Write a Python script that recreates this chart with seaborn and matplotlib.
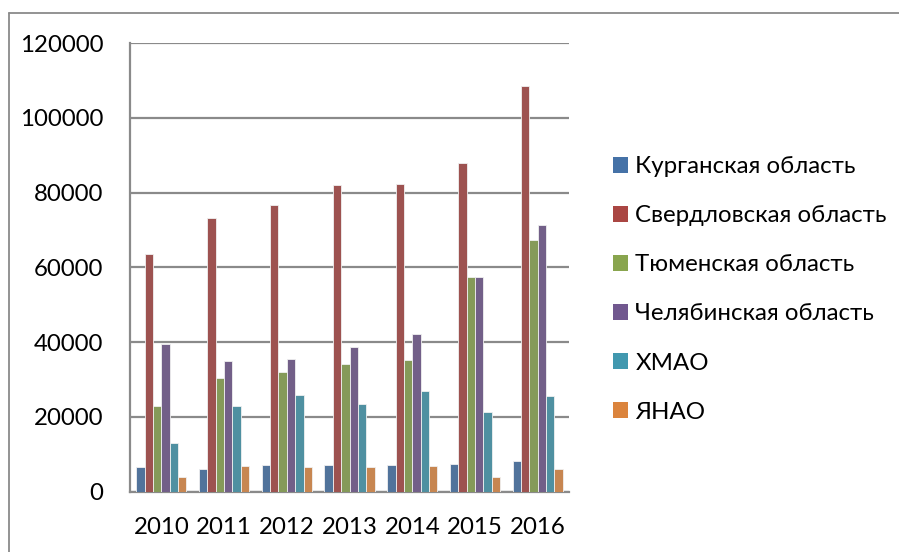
import numpy as np
import pandas as pd
import matplotlib
matplotlib.use("Agg")
import matplotlib.pyplot as plt
import seaborn as sns
from matplotlib.lines import Line2D
from matplotlib.patches import Patch

# данные по регионам
years = ["2010", "2011", "2012", "2013", "2014", "2015", "2016"]
regions = ["Курганская область", "Свердловская область", "Тюменская область",
           "Челябинская область", "ХМАО", "ЯНАО"]

kurgan = [6600, 5900, 7000, 7200, 7150, 7250, 8250]
sverdl = [63500, 73200, 76700, 82000, 82300, 88000, 108500]
tyumen = [22800, 30300, 32100, 34200, 35100, 57300, 67300]
chelyab = [39500, 35000, 35400, 38800, 42100, 57500, 71300]
hmao = [13000, 22900, 25800, 23300, 26900, 21300, 25500]
yanao = [4000, 6700, 6600, 6500, 6900, 4000, 6000]

colors = ["#4572A7", "#AA4643", "#89A54E", "#71588F", "#4198AF", "#DB843D"]

series = [kurgan, sverdl, tyumen, chelyab, hmao, yanao]
df = pd.DataFrame({
    "year": np.tile(years, len(regions)),
    "region": np.repeat(regions, len(years)),
    "value": np.concatenate(series),
})

sns.set_style("white")
plt.rcParams['font.family'] = ['Lato', 'DejaVu Sans']
plt.rcParams['text.color'] = 'black'
plt.rcParams['xtick.labelcolor'] = 'black'
plt.rcParams['ytick.labelcolor'] = 'black'

fig = plt.figure(figsize=(8.99, 5.52), dpi=100)
ax = fig.add_axes([0.1446, 0.1096, 0.4884, 0.8124])

sns.barplot(data=df, x="year", y="value", hue="region", palette=colors,
            width=0.8, gap=0, ax=ax, legend=False,
            edgecolor="#f0f0f0", linewidth=0.6, zorder=3)

gc = "#8a8a8a"
ax.set_ylim(0, 120000)
ax.set_xlim(-0.5, len(years) - 0.5)
ax.set_yticks(range(0, 120001, 20000))
ax.yaxis.grid(True, color=gc, linewidth=1.6, zorder=0)
ax.set_axisbelow(True)
ax.set_xlabel("")
ax.set_ylabel("")

for s in ["top", "right"]:
    ax.spines[s].set_visible(False)
for s in ["left", "bottom"]:
    ax.spines[s].set_color(gc)
    ax.spines[s].set_linewidth(1.6)

fs = 17.3
ax.set_xticks(np.arange(-0.5, len(years), 1.0), minor=True)
ax.tick_params(axis="x", which="major", length=0, pad=18, labelsize=fs)
ax.tick_params(axis="x", which="minor", length=8, width=1.6, color=gc)
ax.tick_params(axis="y", length=8, width=1.6, color=gc, pad=11, labelsize=fs)

handles = [Patch(facecolor=c, edgecolor="none") for c in colors]
fig.legend(handles, regions, loc="upper left", bbox_to_anchor=(0.668, 0.739),
           frameon=False, fontsize=fs, handlelength=0.65, handleheight=0.65,
           handletextpad=0.3, labelspacing=1.17, borderpad=0)

# рамка области диаграммы (верх и левый край)
top_y = 1 - 13 / 552
left_x = 9 / 899
fig.add_artist(Line2D([left_x, 1.0], [top_y, top_y], color=gc, linewidth=1.3))
fig.add_artist(Line2D([left_x, left_x], [0.0, top_y], color=gc, linewidth=1.3))

fig.savefig("out.png", dpi=100)
